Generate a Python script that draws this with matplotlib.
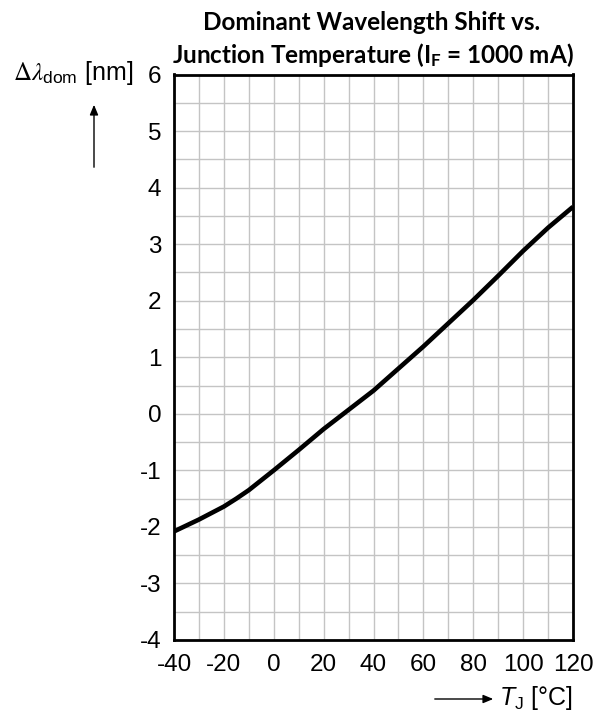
import matplotlib
matplotlib.use("Agg")
import matplotlib.pyplot as plt
from matplotlib.ticker import MultipleLocator

# curve
temp_c = [-40, -30, -20, -15, -10, 0, 10, 20, 30, 40, 50, 60, 70, 80, 90, 100, 110, 120]
shift_nm = [-2.08, -1.87, -1.64, -1.50, -1.35, -1.00, -0.64, -0.27, 0.07, 0.41,
            0.80, 1.19, 1.60, 2.01, 2.44, 2.88, 3.29, 3.66]

x_ticks = [-40, -20, 0, 20, 40, 60, 80, 100, 120]
y_ticks = [-4, -3, -2, -1, 0, 1, 2, 3, 4, 5, 6]

plt.rcParams["font.family"] = ["Liberation Sans", "DejaVu Sans"]
plt.rcParams["axes.unicode_minus"] = False
plt.rcParams["mathtext.fontset"] = "custom"
plt.rcParams["mathtext.rm"] = "Liberation Sans"
plt.rcParams["mathtext.it"] = "Liberation Sans:italic"

fig = plt.figure(figsize=(6.01, 7.18), dpi=100)
ax = fig.add_axes([174 / 601, 1 - 640 / 718, 399 / 601, 565.5 / 718])

ax.plot(temp_c, shift_nm, color="black", linewidth=3.3, solid_capstyle="butt")

ax.set_xlim(-40, 120)
ax.set_ylim(-4, 6)
ax.set_xticks(x_ticks)
ax.set_yticks(y_ticks)
ax.xaxis.set_minor_locator(MultipleLocator(10))
ax.yaxis.set_minor_locator(MultipleLocator(0.5))
ax.grid(True, which="both", color="#c4c4c4", linewidth=1.0)
ax.set_axisbelow(True)
ax.tick_params(which="both", length=0, labelsize=17.5)
ax.tick_params(axis="y", pad=9)
ax.tick_params(axis="x", pad=10)
for s in ax.spines.values():
    s.set_linewidth(2.0)
    s.set_color("black")

fig.text(372 / 601, 1 - 22 / 718, "Dominant Wavelength Shift vs.", ha="center", va="center",
         fontsize=17.5, fontweight="bold", family="Lato")
fig.text(373 / 601, 1 - 55 / 718, r"Junction Temperature (I$_\mathregular{F}$ = 1000 mA)",
         ha="center", va="center", fontsize=17.5, fontweight="bold", family="Lato")

# axis labels with arrows, datasheet style
fig.text(133 / 601, 1 - 73 / 718, r"$\Delta\lambda_{\mathregular{dom}}$ [nm]", ha="right", va="center",
         fontsize=18, math_fontfamily="stix")
fig.add_artist(matplotlib.patches.FancyArrowPatch(
    (94 / 601, 1 - 170 / 718), (94 / 601, 1 - 102 / 718), transform=fig.transFigure,
    arrowstyle="-|>,head_length=6,head_width=2.5", color="black", linewidth=1.0))

fig.text(573 / 601, 1 - 698 / 718, r"$T_\mathregular{J}$ [°C]", ha="right", va="center", fontsize=18)
fig.add_artist(matplotlib.patches.FancyArrowPatch(
    (432 / 601, 1 - 699 / 718), (496 / 601, 1 - 699 / 718), transform=fig.transFigure,
    arrowstyle="-|>,head_length=6,head_width=2.5", color="black", linewidth=1.0))

fig.savefig("out.png", dpi=100)
